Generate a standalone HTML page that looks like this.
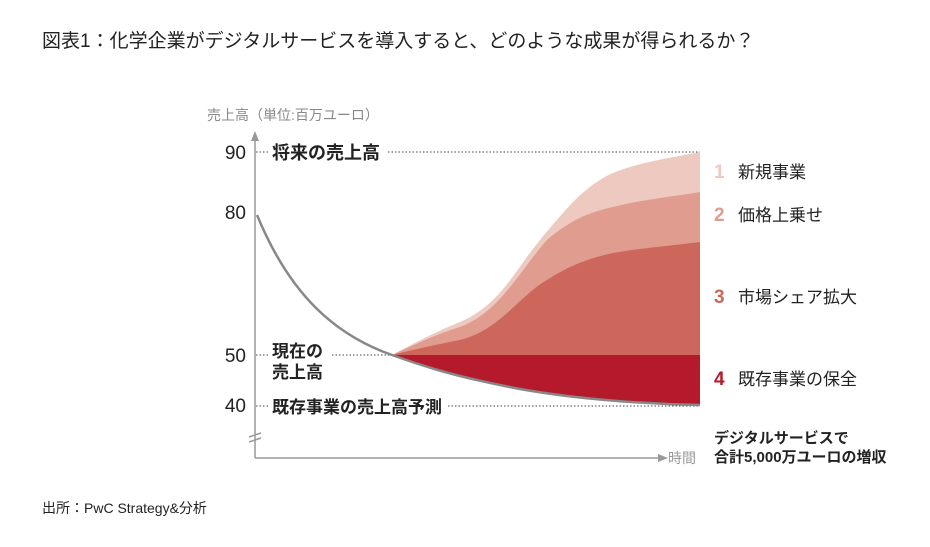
<!DOCTYPE html>
<html><head><meta charset="utf-8"><style>
body{margin:0;background:#fff;width:930px;height:542px;overflow:hidden;font-family:"Liberation Sans","Noto Sans CJK JP",sans-serif}
</style></head><body>
<svg width="930" height="542" xmlns="http://www.w3.org/2000/svg" style="font-family:'Liberation Sans','Noto Sans CJK JP',sans-serif">
<text x="42" y="47" font-size="19" fill="#222">図表1：化学企業がデジタルサービスを導入すると、どのような成果が得られるか？</text>
<text x="207" y="120" font-size="14" fill="#888">売上高（単位:百万ユーロ）</text>
<g stroke="#444" stroke-width="1" stroke-dasharray="1.5,2">
<line x1="256" y1="152" x2="268" y2="152"/><line x1="388" y1="152" x2="700" y2="152"/>
<line x1="256" y1="355" x2="268" y2="355"/><line x1="332" y1="355" x2="700" y2="355"/>
<line x1="256" y1="406" x2="268" y2="406"/><line x1="448" y1="406" x2="700" y2="406"/>
</g>
<path d="M392,355 C420,340 440,330 460,322 C500,305 515,270 540,240 C565,210 585,185 613,173 C640,162 670,158 700,152 L700,355 Z" fill="#edc9c0"/>
<path d="M392,355 C420,342 440,333 460,327 C500,312 520,270 547,240 C570,220 590,212 613,207 C640,200 670,197 700,192 L700,355 Z" fill="#df9c8f"/>
<path d="M392,355 C420,348 440,344 460,340 C500,330 520,295 547,280 C570,265 590,258 613,253 C640,248 670,246 700,242 L700,355 Z" fill="#cd665b"/>
<path d="M392,355 L700,355 L700,405 C640,404 560,398 500,385 C450,375 420,365 392,355 Z" fill="#b41a2b"/>
<path d="M257,215 C290,295 335,335 392,355 C420,365 450,375 500,385 C560,398 640,404 700,405" fill="none" stroke="#888" stroke-width="2.5"/>
<g stroke="#999" stroke-width="1.5" fill="none">
<line x1="255" y1="136" x2="255" y2="458"/>
<line x1="255" y1="458" x2="662" y2="458"/>
<line x1="249" y1="437" x2="261" y2="433"/><line x1="249" y1="442" x2="261" y2="438"/>
</g>
<path d="M255,131 L251,141 L259,141 Z" fill="#999"/>
<path d="M668,458 L658,454 L658,462 Z" fill="#999"/>
<text x="668" y="463" font-size="14" fill="#999">時間</text>
<g font-size="19" fill="#222" text-anchor="end">
<text x="246" y="159">90</text><text x="246" y="219">80</text><text x="246" y="362">50</text><text x="246" y="412">40</text>
</g>
<g font-size="17" font-weight="bold" fill="#222">
<text x="272" y="159" font-size="18">将来の売上高</text>
<text x="272" y="357">現在の</text><text x="272" y="378">売上高</text>
<text x="272" y="413">既存事業の売上高予測</text>
</g>
<g font-size="17" fill="#222">
<text x="714" y="178" fill="#edc9c0" font-weight="bold" font-size="19">1</text><text x="738" y="178">新規事業</text>
<text x="714" y="221" fill="#df9c8f" font-weight="bold" font-size="19">2</text><text x="738" y="221">価格上乗せ</text>
<text x="714" y="303" fill="#cd665b" font-weight="bold" font-size="19">3</text><text x="738" y="303">市場シェア拡大</text>
<text x="714" y="385" fill="#b41a2b" font-weight="bold" font-size="19">4</text><text x="738" y="385">既存事業の保全</text>
</g>
<g font-size="15" font-weight="bold" fill="#222">
<text x="714" y="443">デジタルサービスで</text>
<text x="714" y="462">合計5,000万ユーロの増収</text>
</g>
<text x="42" y="513" font-size="14" fill="#222">出所：PwC Strategy&amp;分析</text>
</svg>
</body></html>
